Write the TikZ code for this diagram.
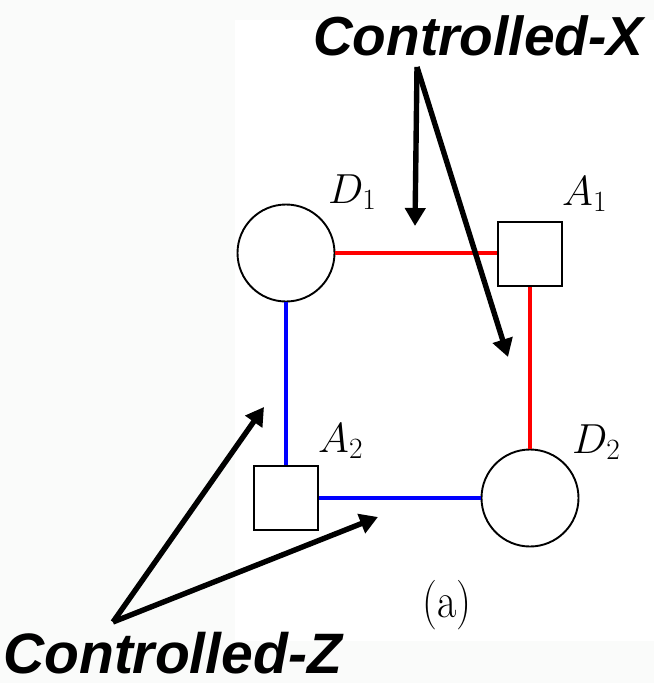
\RequirePackage{fix-cm}
\documentclass[tikz,border=0pt]{standalone}
\usepackage{fontspec}
\usepackage{graphicx}
\newfontfamily\labelfont{Liberation Sans}
\usetikzlibrary{arrows.meta}
\definecolor{bgoff}{RGB}{250,251,250}
\tikzset{
  dnode/.style={circle,draw=black,line width=1.9pt,minimum size=97pt,inner sep=0pt,fill=white},
  anode/.style={rectangle,draw=black,line width=2.1pt,minimum size=64pt,inner sep=0pt,fill=white},
  redline/.style={draw=red,line width=4.6pt},
  blueline/.style={draw=blue,line width=4.6pt},
  callout/.style={draw=black,line width=5.4pt,-{Triangle[width=20pt,length=18pt]}},
  mlabel/.style={anchor=base west,inner sep=0pt,font=\fontsize{42}{46}\selectfont},
  ctext/.style={anchor=base west,inner sep=0pt,text depth=0pt,font=\labelfont\bfseries\itshape\fontsize{55}{60}\selectfont},
}
\begin{document}
\begin{tikzpicture}[x=1pt,y=-1pt]
\useasboundingbox (0,0) rectangle (654,683);
\fill[bgoff] (0,0) rectangle (654,683);
\fill[white] (235,20) rectangle (654,641);
% edges
\node[dnode] (d1) at (286,253) {};
\node[anode] (a1) at (530,254) {};
\node[anode] (a2) at (286,498) {};
\node[dnode] (d2) at (530,498) {};
\draw[redline] (d1.east) -- (d1.east -| a1.west);
\draw[redline] (a1.south) -- (d2.north);
\draw[blueline] (d1.south) -- (a2.north);
\draw[blueline] (a2.east) -- (d2.west);
% labels
\node[mlabel] (l1) at (328,203) {$D_1$};
\node[mlabel] (l2) at (562,205) {$A_1$};
\node[mlabel] (l3) at (318,452) {$A_2$};
\node[mlabel] (l4) at (572,453) {$D_2$};
\node[mlabel] (l5) at (422,617) {\scalebox{1}[1.18]{(a)}};
% callouts
\node[ctext] (cx) at (313,55) {Controlled-X};
\node[ctext,font=\labelfont\bfseries\itshape\fontsize{57}{60}\selectfont] (cz) at (3,673) {Controlled-Z};
\coordinate (xs) at (417,67);
\coordinate (xt1) at (415,226);
\coordinate (xt2) at (508,357);
\coordinate (zs) at (113,622);
\coordinate (zt1) at (264,407);
\coordinate (zt2) at (378,517);
\draw[callout] (xs) -- (xt1);
\draw[callout] (xs) -- (xt2);
\draw[callout] (zs) -- (zt1);
\draw[callout] (zs) -- (zt2);
\end{tikzpicture}
\end{document}
